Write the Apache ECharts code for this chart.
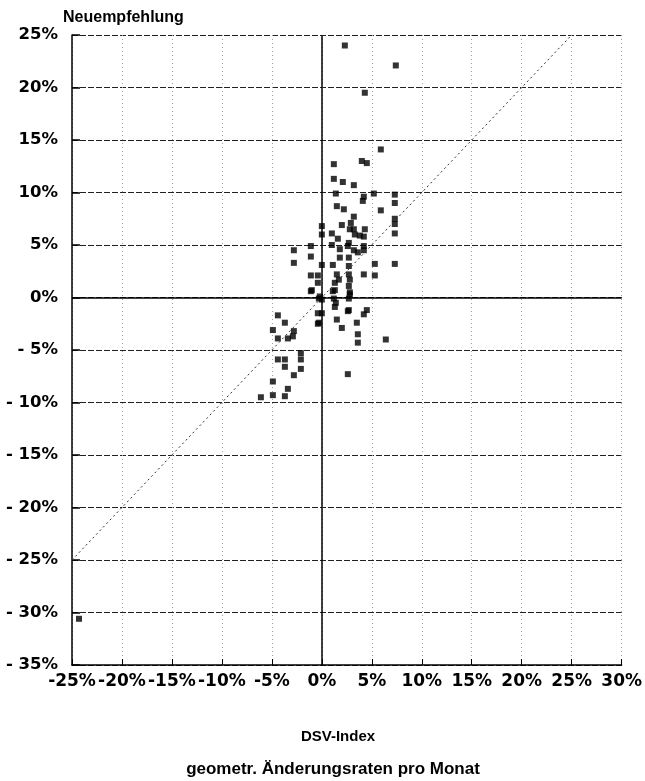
<!DOCTYPE html>
<html>
<head>
<meta charset="utf-8">
<script src="https://cdn.jsdelivr.net/npm/echarts@6/dist/echarts.min.js"></script>
<style>
  html, body { margin: 0; padding: 0; background: #fff; }
  #chart { width: 645px; height: 781px; }
</style>
</head>
<body>
<div id="chart"></div>
<script>
// DSV-Index (x) vs Neuempfehlung (y), geometr. Aenderungsraten pro Monat, in %
const dsvIndex = [
    5.9, 1.2, 4.0, 4.5, 1.2, 2.1, 3.2, 1.4, 4.2, 4.1,
    5.2, 7.3, 7.3, 1.5, 2.2, 5.9, 3.2, 7.3, 7.3, 7.3,
    0.0, 0.0, 2.0, 2.8, 3.2, 4.3, 1.0, 3.3, 3.8, 4.2,
    1.6, 2.7, -2.8, -1.1, 1.0, 1.8, 2.6, 3.2, 4.2, 4.2,
    -2.8, -1.1, 1.8, 2.7, 3.6, 0.0, 1.1, 2.7, 5.3, 7.3,
    -1.1, -0.4, -0.4, -1.0, 1.5, 1.7, 1.3, 1.3, 2.7, 2.8,
    2.7, 4.2, 5.3, 2.8, -0.2, -1.1, -0.3, 0.0, 1.2, 2.7,
    1.3, -0.4, 0.0, 2.6, 4.5, 4.2, -0.4, 1.5, 2.0, 3.5,
    3.6, 3.6, 6.4, -4.4, -3.7, -4.9, -2.8, -2.9, -4.4, -3.4,
    -2.1, -2.1, -4.4, -3.7, -3.7, -2.1, -2.8, 2.6, -4.9, -3.4,
    -4.9, -3.7, -6.1, 2.3, 7.4, 4.3, -24.3, 1.4, 1.1, 2.8,
    2.7, 2.9, -0.3
];
const neuempfehlung = [
    14.1, 12.7, 13.0, 12.8, 11.3, 11.0, 10.7, 9.9, 9.6, 9.2,
    9.9, 9.8, 9.0, 8.7, 8.4, 8.3, 7.7, 7.5, 7.0, 6.1,
    6.8, 6.0, 6.9, 6.5, 6.5, 6.5, 6.1, 6.0, 5.9, 5.8,
    5.6, 5.2, 4.5, 4.9, 5.0, 4.6, 4.9, 4.5, 4.9, 4.5,
    3.3, 3.9, 3.8, 3.8, 4.3, 3.1, 3.1, 3.0, 3.2, 3.2,
    2.1, 2.1, 1.4, 0.7, 2.2, 1.7, 1.4, 0.7, 2.2, 1.7,
    1.1, 2.2, 2.1, 0.5, 0.1, 0.6, -0.1, -0.2, -0.1, -0.1,
    -0.9, -1.5, -1.5, -1.3, -1.2, -1.6, -2.5, -2.1, -2.9, -2.4,
    -3.5, -4.3, -4.0, -1.7, -2.4, -3.1, -3.2, -3.7, -3.9, -3.9,
    -5.3, -5.9, -5.9, -5.9, -6.6, -6.8, -7.4, -7.3, -8.0, -8.7,
    -9.3, -9.4, -9.5, 24.0, 22.1, 19.5, -30.6, -0.5, 0.6, 0.3,
    -1.2, 7.1, -2.4
];
// 45-degree reference line
const diagonal = [[-25, -25], [25, 25]];
const xTicks = { min: -25, max: 30, step: 5 };
const yTicks = { min: -35, max: 25, step: 5 };

const font = 'Liberation Sans';
const tickFont = 'DejaVu Sans';
const points = dsvIndex.map((x, i) => [x, neuempfehlung[i]]);

const chart = echarts.init(document.getElementById('chart'));
chart.setOption({
    animation: false,
    backgroundColor: '#fff',
    title: [
        {
            text: 'Neuempfehlung',
            left: 58, top: 5,
            textStyle: { fontFamily: font, fontWeight: 'bold', fontSize: 16, color: '#000' }
        },
        {
            text: 'DSV-Index',
            left: 333, top: 724, textAlign: 'center',
            textStyle: { fontFamily: font, fontWeight: 'bold', fontSize: 15, color: '#000' }
        },
        {
            text: 'geometr. Änderungsraten pro Monat',
            left: 328, top: 756, textAlign: 'center',
            textStyle: { fontFamily: font, fontWeight: 'bold', fontSize: 17, color: '#000' }
        }
    ],
    grid: { left: 72, right: 23, top: 35, bottom: 116 },
    xAxis: {
        type: 'value',
        min: xTicks.min, max: xTicks.max, interval: xTicks.step,
        axisLine: { onZero: false, lineStyle: { color: '#000', width: 1.5 } },
        axisTick: { inside: true, length: 6, lineStyle: { color: '#000' } },
        axisLabel: {
            formatter: '{value}%', margin: 8,
            fontFamily: tickFont, fontWeight: 'bold', fontSize: 17, color: '#000'
        },
        splitLine: { show: true, lineStyle: { color: '#a0a0a0', type: [1, 3], width: 1 } }
    },
    yAxis: {
        type: 'value',
        min: yTicks.min, max: yTicks.max, interval: yTicks.step,
        axisLine: { onZero: false, lineStyle: { color: '#000', width: 1.5 } },
        axisTick: { inside: true, length: 8, lineStyle: { color: '#000', width: 1.5 } },
        axisLabel: {
            formatter: function (v) { return (v < 0 ? '- ' + (-v) : v) + '%'; },
            margin: 14,
            fontFamily: tickFont, fontWeight: 'bold', fontSize: 16.5, color: '#000'
        },
        splitLine: { show: true, lineStyle: { color: '#222', type: [6, 2], width: 1.2 } }
    },
    series: [
        {
            type: 'line',
            data: diagonal,
            symbol: 'none',
            silent: true,
            lineStyle: { color: '#333', width: 1, type: [2, 3] },
            markLine: {
                silent: true,
                symbol: 'none',
                label: { show: false },
                lineStyle: { color: '#000', width: 1.5, type: 'solid' },
                data: [{ xAxis: 0 }, { yAxis: 0 }]
            }
        },
        {
            type: 'scatter',
            data: points,
            symbol: 'rect',
            symbolSize: 6,
            itemStyle: { color: '#000' }
        }
    ]
});
</script>
</body>
</html>
